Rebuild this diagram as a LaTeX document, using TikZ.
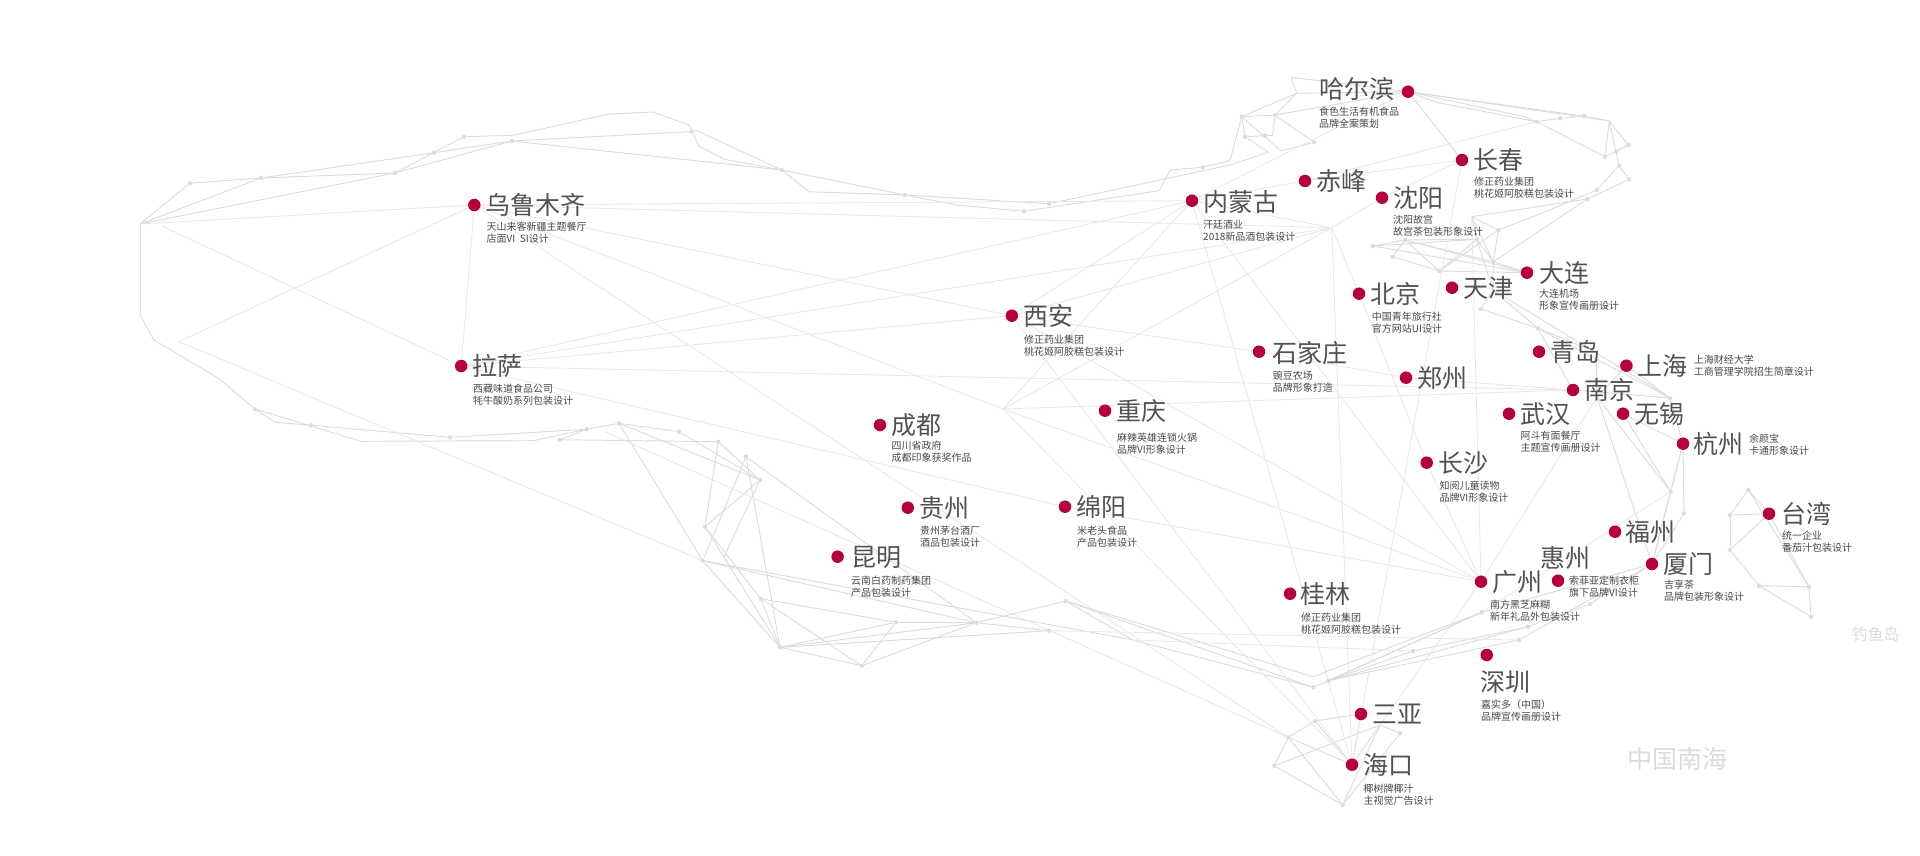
\documentclass[tikz,border=0pt]{standalone}
\usepackage{fontspec}
\setmainfont{Noto Sans CJK SC}
\usetikzlibrary{backgrounds}
\definecolor{cityred}{HTML}{B5003A}
\definecolor{meshgray}{HTML}{DCDCDC}
\definecolor{fargray}{HTML}{E8E8E8}
\tikzset{
	cityDot/.style={circle, fill=cityred, draw=none, minimum size=12.5pt, inner sep=0pt},
	cityName/.style={anchor=west, inner sep=0pt, text=black!68, font=\fontsize{25}{30}\selectfont},
	cityNote/.style={anchor=west, inner sep=0pt, align=left, text=black!72, font=\fontsize{10}{12.2}\selectfont},
	seaName/.style={anchor=west, inner sep=0pt, text=black!14},
	meshDot/.style={circle, fill=meshgray, draw=none, minimum size=4.5pt, inner sep=0pt},
	meshLine/.style={draw=meshgray, line width=0.95pt},
	farLine/.style={draw=fargray, line width=0.85pt}
}
\begin{document}
\begin{tikzpicture}[x=1pt, y=-1pt]
	\useasboundingbox (0,0) rectangle (1920,856);

	% cities: id / dot / name
	\foreach \id/\dx/\dy/\nx/\ny/\txt in {
		urumqi/474.3/205/485.7/205/乌鲁木齐, lhasa/461.2/366/472/366/拉萨,
		harbin/1408/91.7/1319/89.3/哈尔滨, changchun/1462/160/1473/160/长春,
		chifeng/1305/181/1316/181/赤峰, shenyang/1382/197.7/1393/198/沈阳,
		neimeng/1192/200.7/1203/202/内蒙古, beijing/1359/293.7/1370.7/293.7/北京,
		tianjin/1452/287.7/1463/287.7/天津, dalian/1527/272.7/1539/273/大连,
		qingdao/1539/351.7/1550.7/351.7/青岛, shanghai/1626.4/365.7/1637/365.7/上海,
		nanjing/1573/390/1584.5/390/南京, zhengzhou/1406/377.7/1417/377.7/郑州,
		wuhan/1509/413.7/1520/414/武汉, wuxi/1623/413.7/1634/414/无锡,
		hangzhou/1683/443.7/1693.6/443.7/杭州, changsha/1426.7/462.7/1438/462.7/长沙,
		fuzhou/1615/531.7/1625.6/531.7/福州, taiwan/1769/513.7/1781/514/台湾,
		xiamen/1652/564/1663.5/564/厦门, huizhou/1558/580.7/1540/557.7/惠州,
		guangzhou/1481/581.7/1492.5/581.7/广州, shenzhen/1486.7/655/1480/681.7/深圳,
		guilin/1290/593.7/1300.6/594.3/桂林, sanya/1361/714/1372/714/三亚,
		haikou/1352/764.7/1363.4/764.7/海口, xian/1011.8/315.7/1023/316/西安,
		shijiazhuang/1259/351.7/1272/352.7/石家庄, chongqing/1105/410.7/1116.3/411/重庆,
		chengdu/880/425/891/425/成都, guizhou/907.8/507.7/919/507.7/贵州,
		mianyang/1065/506.7/1076.7/506.7/绵阳, kunming/837.6/556.7/851/557.3/昆明%
	} {
		\node[cityDot] (\id) at (\dx,\dy) {};
		\node[cityName] (\id-name) at (\nx,\ny) {\txt};
	}

	% notes
	\foreach \id/\nx/\ny/\first/\second in {
		urumqi/486.5/233/天山来客新疆主题餐厅/店面VI\ \ SI设计,
		lhasa/473/394.3/西藏味道食品公司/牦牛酸奶系列包装设计,
		harbin/1319/117.5/食色生活有机食品/品牌全案策划,
		changchun/1474/187.7/修正药业集团/桃花姬阿胶糕包装设计,
		shenyang/1393/225.5/沈阳故宫/故宫茶包装形象设计,
		neimeng/1203/230.7/汗廷酒业/2018新品酒包装设计,
		beijing/1371.7/322.7/中国青年旅行社/官方网站UI设计,
		dalian/1539/299.7/大连机场/形象宣传画册设计,
		shanghai/1693.6/365.7/上海财经大学/工商管理学院招生简章设计,
		wuhan/1520.5/441.7/阿斗有面餐厅/主题宣传画册设计,
		hangzhou/1749/444.3/余颜宝/卡通形象设计,
		changsha/1439.5/491.5/知阅儿童读物/品牌VI形象设计,
		taiwan/1782/541.5/统一企业/番茄汁包装设计,
		xiamen/1664/590.8/吉享茶/品牌包装形象设计,
		huizhou/1569/586.7/索菲亚定制衣柜/旗下品牌VI设计,
		guangzhou/1490/610.7/南方黑芝麻糊/新年礼品外包装设计,
		guilin/1301/623.7/修正药业集团/桃花姬阿胶糕包装设计,
		shenzhen/1481/710.5/嘉实多（中国）/品牌宣传画册设计,
		haikou/1363.4/794.7/椰树牌椰汁/主视觉广告设计,
		xian/1024/345.7/修正药业集团/桃花姬阿胶糕包装设计,
		shijiazhuang/1272.6/381.3/豌豆农场/品牌形象打造,
		chongqing/1117/443.7/麻辣英雄连锁火锅/品牌VI形象设计,
		chengdu/891.4/451.7/四川省政府/成都印象获奖作品,
		guizhou/920/536.7/贵州茅台酒厂/酒品包装设计,
		mianyang/1077/536.7/米老头食品/产品包装设计,
		kunming/851/586.8/云南白药制药集团/产品包装设计%
	} {
		\node[cityNote] (\id-note) at (\nx,\ny) {\first\\\second};
	}

	\node[seaName, font=\fontsize{25}{30}\selectfont] (nanhai) at (1627.5,759) {中国南海};
	\node[seaName, font=\fontsize{15.7}{18}\selectfont] (diaoyu) at (1852,634) {钓鱼岛};

	% mesh points with a visible dot
	\foreach \id/\x/\y in {
		a1/189.8/183.3, a2/261/178, a3/395/173, a4/434/152.7, a5/464/136.7, a6/512/141,
		a7/691.5/131.5, a8/781.7/170, a9/905/195, a10/1024/211.3, a11/1049/203.7, a12/1202.7/167.3,
		b1/1241.7/116.7, b2/1275/115, b3/1245/136.7, b4/1265/135.7, b5/1314/142.3,
		c1/1536.7/121.7, c2/1560/118.3, c3/1584/116, c4/1628.3/145, c5/1616/151.7, c6/1605/156.7,
		c7/1619/165.7, c8/1629.3/179.3, c9/1596.7/190, c10/1587.3/199,
		d1/1372.7/246, d2/1405/240, d3/1392.7/256.7, d4/1476.7/239.3, d5/1498.3/230, d6/1493.3/261.7,
		d7/1439.3/271, d8/1481/309, d9/1537.7/328.3,
		e1/1670/398, e2/1670.7/491.7, e3/1684/513.3,
		t1/1748.3/490, t2/1730/515, t3/1730/550, t4/1759/585.7, t5/1809/586.7, t6/1811/616.7,
		f1/1590/604, f2/1528/626.7, f3/1519/640, f4/1481.7/612.3, f5/1413/651, f6/1313.3/687.3, f7/1328.3/680.7,
		h1/1315/721, h2/1288.3/737.3, h3/1274.3/765.7, h4/1342.7/805, h5/1400/733.3,
		g1/1065.7/601, g2/1049/630.7, g3/976.4/622.7, g4/896/622.3, g5/861.7/665.7, g6/780/647.3,
		g7/760.7/598.7, g8/702.7/560.7, g9/705/526.7, g10/760/480, g11/746/456.7, g12/718.3/441.7,
		g13/679/431.7, g14/619/423.3, g15/586.7/429.3, g16/560/439.7, g17/450/437.3, g18/311.4/425.3, g19/255/409%
	} {
		\node[meshDot] (\id) at (\x,\y) {};
	}

	% mesh corners without a dot
	\foreach \id/\x/\y in {
		p1/140/224, p2/162/226, p3/178.8/341.7, p4/140/315, p5/153.9/340, p6/218.4/378.3,
		p7/275.5/422.3, p8/361/441.3, p9/533.5/440.7,
		q1/513/135.3, q2/608/114.3, q3/653/112, q4/689/125, q5/697/130.7, q6/698.8/146, q7/724.5/159.3,
		q8/809/191.7, q9/956.7/205, q10/1159.3/190.7, q11/1170/170, q12/1230/160.7, q13/1230/165,
		q14/1268.3/152.3, q15/1291/77.3, q16/1296.7/93.3, q17/1272.7/135.7, q18/1281/151,
		r1/1436.7/102.3, r2/1524.3/116.7, r3/1609.3/121, r4/1540/214, r5/1471.7/216.7,
		hub/1331.7/227.7, k1/1493/290, s1/1597/397, s2/1596/352, v0/1003/409,
		l1/605/431.7, l2/724/556.7, m1/1133/640, m2/1313/676.7, n1/1380/725%
	} {
		\coordinate (\id) at (\x,\y);
	}

	\begin{pgfonlayer}{background}
		\foreach \a/\b in {
			p1/a1, a1/a2, p1/a2, a2/a3, p1/a3, a2/a4, a4/a6, a3/a5, a5/q1, a3/a6, a6/a7,
			q1/q2, q2/q3, q3/q4, q4/q6, q5/a7, q5/a8, q6/q7, q7/a8, a6/a8, a8/q8, q8/a9, a8/a9,
			a9/q9, q9/a10, a9/a11, a10/q10, q10/q11, q11/a12, a11/q13, a12/q12, q12/b1, q13/q14, q14/b3,
			p1/p4, p4/p5, p5/p6, p6/g19, g19/p7, p7/g18, g18/g17, g19/p8, p8/p9, g17/g15, p9/g15, g15/g14,
			g16/g15, g16/g12, g14/g13, g13/g10, g14/g10, g14/g8, g12/g9, g12/g10, g11/g8, g11/g6, g11/g3,
			g10/g9, g10/l2, g9/g6, g9/g7, g8/g6, g8/g3, g7/g5, g7/g6, g7/g4, g6/g4, g6/g3, g6/g5,
			g5/g4, g5/g3, g4/g3, g3/g1, g3/g2, g6/g2, g1/m1, g1/f6, g1/m2, m1/f6,
			b1/b2, b1/q16, q16/b2, q15/q16, q15/harbin, q16/harbin, b2/harbin, b2/b5, b1/b3, b3/b4,
			b4/q17, q17/b2, b1/q18, q18/b5, harbin/changchun, harbin/r1, r1/c1, harbin/r2, r2/c1,
			harbin/c3, c1/c2, c2/c3, c3/r3, harbin/r3, c1/c6, r3/c4, c4/c6, c6/r3, r3/c7, c5/c4,
			c7/c8, c7/c9, c9/r4, r4/d5, c8/c10, c10/d6, c10/r5, r5/d5, r5/d6, r5/d4, d5/d6, d4/d6,
			d4/d2, d1/d4, d1/d2, d2/d3, d3/d7, d2/d7, d2/dalian, d1/dalian, d7/dalian, d7/d4,
			d6/dalian, d6/k1, d4/k1, d2/d6, d7/d5, d8/d9, d8/k1, k1/d9, k1/e1, d9/nanjing, d9/s2, d9/e1,
			s2/s1, s1/xiamen, shanghai/s1, shanghai/e1, nanjing/e1, e1/hangzhou, wuxi/hangzhou,
			wuxi/e2, s1/e2, hangzhou/e2, hangzhou/xiamen, hangzhou/e3, e3/xiamen, e2/xiamen,
			xiamen/f1, f1/f2, f2/f7, xiamen/f3, f3/f7, f4/xiamen, f4/f7, f4/f6, f4/m2, f5/f7, f5/f2,
			h2/haikou, sanya/h1, h1/h2, h2/h3, h3/h4, h4/h2, h4/h5, h5/n1, n1/haikou, h4/n1, h3/n1,
			sanya/haikou, h1/haikou, g8/m1,
			t1/t2, t1/taiwan, t1/t5, t2/taiwan, t2/t3, t3/taiwan, t3/t4, t4/t5, t4/t6, t5/t6, taiwan/t5%
		} {
			\draw[meshLine] (\a) -- (\b);
		}
		\foreach \a/\b in {
			harbin/neimeng, chifeng/changchun, chifeng/neimeng, chifeng/c1, changchun/shenyang,
			shenyang/hub, hub/beijing, hub/neimeng, hub/urumqi, hub/xian, hub/lhasa, hub/v0, hub/haikou,
			changchun/haikou, neimeng/xian, neimeng/lhasa, neimeng/v0, neimeng/haikou, neimeng/guangzhou,
			neimeng/urumqi, p1/urumqi, p2/lhasa, p3/urumqi, p3/g8, urumqi/lhasa, urumqi/xian, urumqi/v0,
			urumqi/h2, l1/h2, v0/guangzhou, v0/nanjing, v0/haikou, xian/lhasa, xian/shijiazhuang,
			xian/haikou, xian/guangzhou, shijiazhuang/zhengzhou, zhengzhou/nanjing, lhasa/nanjing,
			lhasa/mianyang, mianyang/guangzhou, beijing/changsha, changsha/guangzhou, r5/guangzhou,
			s1/guangzhou, e2/f4, guangzhou/haikou, g2/f3, m1/f5%
		} {
			\draw[farLine] (\a) -- (\b);
		}
	\end{pgfonlayer}
\end{tikzpicture}
\end{document}
